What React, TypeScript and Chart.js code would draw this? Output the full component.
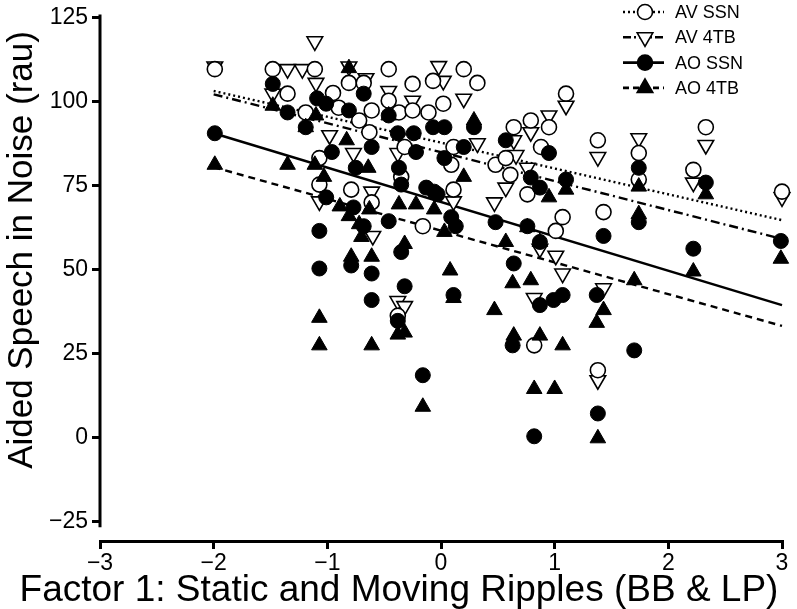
import React, { useEffect, useRef } from "react";
import { Chart, registerables } from "chart.js";

Chart.register(...registerables);

// ---- Data ----
const avSsnX = [-1.99, -1.48, -1.35, -1.19, -1.11, -1.07, -1.07, -0.95, -0.9, -0.81, -0.68, -0.72, -0.63, -0.61, -0.46, -0.46, -0.37, -0.35, -0.32, -0.25, -0.25, -0.11, -0.07, 0.02, 0.09, 0.11, 0.11, 0.2, 0.32, -0.16, -0.38, -0.79, -0.61, 0.48, 0.57, 0.64, 0.79, 0.61, 0.76, 0.88, 0.95, 1.01, 1.07, 1.1, 1.38, 1.43, 1.74, 1.74, 2.33, 2.22, 3.0, 0.82, 1.38];
const avSsnY = [109.7, 109.7, 102.4, 96.8, 109.7, 83.2, 75.3, 102.6, 98.2, 105.6, 105.6, 94.4, 90.9, 97.4, 109.7, 100.3, 96.8, 77.6, 86.5, 105.3, 97.4, 96.8, 106.2, 99.4, 81.2, 86.5, 73.8, 109.7, 105.6, 62.9, 36.2, 73.8, 70.0, 81.2, 83.2, 92.4, 94.4, 78.2, 72.4, 86.5, 92.4, 61.5, 65.6, 102.4, 88.5, 67.1, 84.7, 76.8, 92.4, 79.7, 73.2, 27.4, 20.0];

const av4tbX = [-1.99, -1.35, -1.22, -1.11, -1.48, -1.1, -1.07, -0.81, -0.46, -0.25, -0.02, 0.02, 0.2, 0.32, 0.11, -0.98, -0.77, -0.38, -0.61, -0.6, -0.38, -0.32, 0.47, 0.57, 0.66, 0.64, 0.76, 0.79, 0.95, 0.87, 1.01, 1.07, 0.82, 1.1, 1.38, 1.43, 1.38, 1.74, 2.33, 2.22, 3.0, -0.66];
const av4tbY = [110.5, 109.7, 109.7, 118, 102.4, 105.6, 70.3, 110.5, 103.2, 100.3, 110.6, 106.2, 100.9, 87.6, 70.3, 90, 84.7, 84.7, 73.2, 60, 40.6, 39.1, 70, 74.4, 84.1, 88.5, 80.3, 90.9, 95.9, 56.2, 54.1, 48.8, 41.5, 98.8, 83.5, 44.4, 17, 89.1, 87.1, 75.9, 71.5, 107];

const aoSsnX = [-1.99, -1.48, -1.35, -1.19, -1.09, -1.07, -1.07, -1.01, -0.68, -0.81, -0.46, -0.61, -0.38, -0.24, -0.07, 0.03, 0.29, -0.22, -0.37, -0.35, -0.13, -0.06, -0.96, -0.75, -1.01, -0.77, -0.46, -0.68, -0.35, 0.03, 0.2, -0.03, 0.09, 0.13, 0.48, 0.57, 0.76, 0.79, 0.87, 0.95, 0.87, 0.64, 0.87, 0.99, 1.07, 1.1, 1.43, 1.37, 1.74, 1.74, 2.33, 2.22, 2.99, 1.7, 1.38, 0.82, 0.63, 0.11, -0.16, -0.38, -0.32, -0.61, -0.61, -0.79];
const aoSsnY = [90.6, 105.3, 96.8, 92.4, 101, 61.5, 50.3, 99.4, 102.4, 97.4, 95.9, 86.5, 90.6, 90.6, 92.4, 92.4, 92.4, 85, 80.3, 75.3, 74.4, 73.2, 85, 80.3, 71.5, 68.5, 64.4, 62.9, 55.2, 83.2, 86.5, 72.4, 65.6, 62.9, 64.1, 88.5, 62.9, 77.4, 74.4, 84.7, 58.2, 51.8, 39.4, 40.9, 42.4, 76.8, 60, 42.4, 80.3, 64.1, 75.9, 56.2, 58.5, 25.9, 7.1, 0.3, 27.4, 42.4, 18.5, 34.7, 45, 48.8, 40.9, 51.2];

const ao4tbX = [-1.99, -1.48, -1.35, -1.19, -1.11, -1.1, -1.07, -1.07, -1.03, -0.83, -0.81, -0.64, -0.89, -0.81, -0.63, -0.72, -0.7, -0.79, -0.61, -0.61, -0.32, -0.38, -0.32, -0.16, -0.37, -0.22, -0.06, -0.46, 0.03, 0.08, 0.2, 0.29, 0.47, 0.57, 0.76, 0.87, 0.63, 0.79, 0.64, 0.87, 1.07, 0.82, 1.0, 0.95, 1.1, 1.43, 1.37, 1.38, 1.7, 1.74, 1.74, 2.33, 2.22, 2.99, 0.11];
const ao4tbY = [81.2, 98.8, 81.2, 92.4, 81.2, 95.9, 35.6, 27.4, 77.6, 88.5, 110, 80.3, 68.8, 65.9, 67.9, 63.5, 59.7, 53.8, 53.8, 27.4, 57.6, 30.6, 31.2, 9.1, 69.4, 69.4, 67.9, 95.9, 61.2, 49.7, 77.6, 94.4, 37.9, 58.2, 62.6, 58.2, 45.9, 46.8, 30.3, 30.3, 27.4, 14.4, 14.4, 71.5, 73.8, 37.9, 34.1, -0.3, 46.8, 74.7, 66.5, 72.4, 49.4, 53.2, 41.5];

// Regression lines (end points)
const fitX = [-2, 3];
const avSsnFitY = [103.2, 64.7];
const av4tbFitY = [102.2, 59.1];
const aoSsnFitY = [90.6, 39.4];
const ao4tbFitY = [80.5, 33.2];

const yTicks = [-25, 0, 25, 50, 75, 100, 125];
const xTicks = [-3, -2, -1, 0, 1, 2, 3];
const seriesLabels = ["AV SSN", "AV 4TB", "AO SSN", "AO 4TB"];
const xTitle = "Factor 1: Static and Moving Ripples (BB & LP)";
const yTitle = "Aided Speech in Noise (rau)";

const FONT = "'Liberation Sans', Arial, Helvetica, sans-serif";

const pts = (xs: number[], ys: number[]) => xs.map((x, i) => ({ x, y: ys[i] }));

function drawMarker(ctx: CanvasRenderingContext2D, kind: string, x: number, y: number, filled: boolean) {
  ctx.save();
  ctx.setLineDash([]);
  ctx.beginPath();
  if (kind === "circle") {
    ctx.arc(x, y, 7.5, 0, Math.PI * 2);
  } else {
    const r = 9;
    const down = kind === "down";
    for (let k = 0; k < 3; k++) {
      const a = (down ? Math.PI : 0) + (k * 2 * Math.PI) / 3;
      const px = x + Math.sin(a) * r;
      const py = y - Math.cos(a) * r;
      if (k === 0) ctx.moveTo(px, py);
      else ctx.lineTo(px, py);
    }
    ctx.closePath();
  }
  ctx.fillStyle = filled ? "#000" : "#fff";
  ctx.fill();
  ctx.lineWidth = 1.6;
  ctx.strokeStyle = "#000";
  ctx.stroke();
  ctx.restore();
}

const legendPlugin = {
  id: "customLegend",
  afterDraw(chart: any) {
    const ctx: CanvasRenderingContext2D = chart.ctx;
    const items = [
      { dash: [2, 3], kind: "circle", filled: false },
      { dash: [8, 3, 2, 3], kind: "down", filled: false },
      { dash: [], kind: "circle", filled: true },
      { dash: [6, 4], kind: "up", filled: true },
    ];
    items.forEach((it, i) => {
      const y = 12 + i * 25.3;
      ctx.save();
      ctx.strokeStyle = "#000";
      ctx.lineWidth = 2.6;
      ctx.setLineDash(it.dash);
      ctx.beginPath();
      ctx.moveTo(623, y);
      ctx.lineTo(664, y);
      ctx.stroke();
      ctx.restore();
      drawMarker(ctx, it.kind, 645, y, it.filled);
      ctx.save();
      ctx.fillStyle = "#000";
      ctx.font = `18px ${FONT}`;
      ctx.textBaseline = "middle";
      ctx.textAlign = "left";
      ctx.fillText(seriesLabels[i], 675, y + 1);
      ctx.restore();
    });
    const yS = chart.scales.y;
    const xS = chart.scales.x;
    // y-axis line (offset style, ends just below -25)
    ctx.save();
    ctx.strokeStyle = "#000";
    ctx.lineWidth = 3;
    ctx.beginPath();
    ctx.moveTo(xS.left, yS.getPixelForValue(126));
    ctx.lineTo(xS.left, yS.getPixelForValue(-26.8));
    ctx.stroke();
    ctx.restore();
    // axis titles
    ctx.save();
    ctx.fillStyle = "#000";
    ctx.font = `37px ${FONT}`;
    ctx.textAlign = "center";
    ctx.textBaseline = "alphabetic";
    ctx.fillText(xTitle, 399, 601);
    ctx.restore();
    ctx.save();
    ctx.fillStyle = "#000";
    ctx.font = `35px ${FONT}`;
    ctx.textAlign = "center";
    ctx.textBaseline = "middle";
    ctx.translate(22, 250);
    ctx.rotate(-Math.PI / 2);
    ctx.fillText(yTitle, 0, 0);
    ctx.restore();
  },
};

const fmt = (v: number) => (v < 0 ? "\u2212" + Math.abs(v) : String(v));

export default function App() {
  const ref = useRef<HTMLCanvasElement | null>(null);
  useEffect(() => {
    document.body.style.margin = "0";
    if (!ref.current) return;
    const open = { backgroundColor: "#fff", borderColor: "#000", borderWidth: 1.6 };
    const filled = { backgroundColor: "#000", borderColor: "#000", borderWidth: 1 };
    const lineBase = { type: "line" as const, showLine: true, pointRadius: 0, borderColor: "#000", borderWidth: 2.4, fill: false, order: 3, clip: false as any };
    const chart = new Chart(ref.current, {
      type: "scatter",
      data: {
        datasets: [
          { ...lineBase, label: "fit AV SSN", data: pts(fitX, avSsnFitY), borderDash: [2, 3] },
          { ...lineBase, label: "fit AV 4TB", data: pts(fitX, av4tbFitY), borderDash: [9, 4, 2, 4] },
          { ...lineBase, label: "fit AO SSN", data: pts(fitX, aoSsnFitY), borderDash: [] },
          { ...lineBase, label: "fit AO 4TB", data: pts(fitX, ao4tbFitY), borderDash: [7, 5] },
          { label: seriesLabels[0], data: pts(avSsnX, avSsnY), pointStyle: "circle", pointRadius: 7.5, ...open, order: 2, clip: false as any },
          { label: seriesLabels[1], data: pts(av4tbX, av4tbY), pointStyle: "triangle", rotation: 180, pointRadius: 9, ...open, order: 2, clip: false as any },
          { label: seriesLabels[2], data: pts(aoSsnX, aoSsnY), pointStyle: "circle", pointRadius: 7.5, ...filled, order: 1, clip: false as any },
          { label: seriesLabels[3], data: pts(ao4tbX, ao4tbY), pointStyle: "triangle", pointRadius: 9, ...filled, order: 1, clip: false as any },
        ] as any,
      },
      options: {
        animation: false,
        responsive: true,
        maintainAspectRatio: false,
        layout: { padding: { left: 0, right: 15, top: 11, bottom: 0 } },
        plugins: { legend: { display: false }, tooltip: { enabled: false } },
        elements: { point: { hoverRadius: 7.5 } },
        scales: {
          x: {
            type: "linear",
            min: -3,
            max: 3,
            afterBuildTicks: (s: any) => { s.ticks = xTicks.map((v) => ({ value: v })); },
            afterFit: (s: any) => { s.height = 68; },
            border: { display: true, color: "#000", width: 3 },
            grid: { display: true, drawOnChartArea: false, drawTicks: true, tickLength: 8, color: "#000", lineWidth: 3 },
            ticks: { color: "#000", padding: 1, font: { family: FONT, size: 23 }, callback: (v: any) => fmt(Number(v)), maxRotation: 0 },
            title: { display: false },
          },
          y: {
            type: "linear",
            min: -30.9,
            max: 125,
            afterBuildTicks: (s: any) => { s.ticks = yTicks.map((v) => ({ value: v })); },
            afterFit: (s: any) => { s.width = 100; },
            border: { display: false },
            grid: { display: true, drawOnChartArea: false, drawTicks: true, tickLength: 8, color: "#000", lineWidth: 3 },
            ticks: { color: "#000", padding: 4, font: { family: FONT, size: 23 }, callback: (v: any) => fmt(Number(v)) },
            title: { display: false },
          },
        },
      },
      plugins: [legendPlugin],
    });
    return () => chart.destroy();
  }, []);
  return (
    <div style={{ position: "absolute", left: 0, top: 0, width: 797, height: 609, background: "#fff" }}>
      <canvas ref={ref} />
    </div>
  );
}
